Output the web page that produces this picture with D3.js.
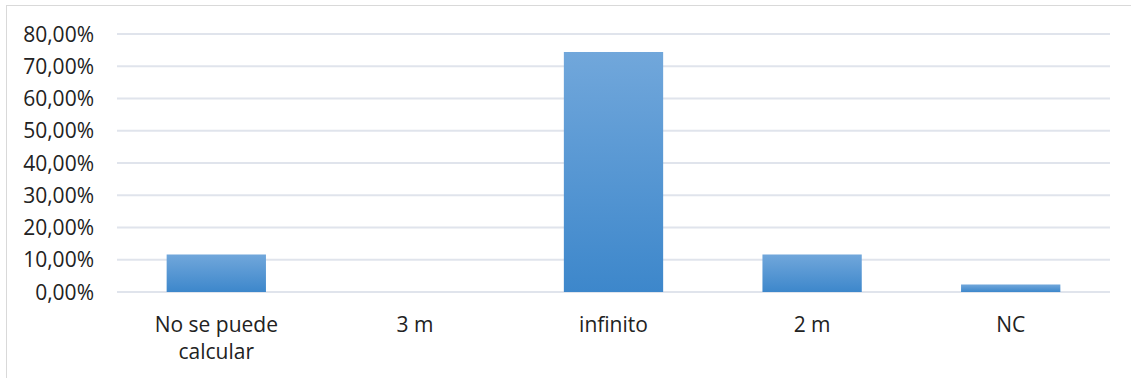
<!DOCTYPE html>
<html>
<head>
<meta charset="utf-8">
<script src="https://cdn.jsdelivr.net/npm/d3@7"></script>
<style>
  body { margin: 0; background: #fff; }
  text { font-family: "Open Sans", sans-serif; fill: #222; }
</style>
</head>
<body>
<div id="chart"></div>
<script>
var categories = ['No se puede calcular', '3 m', 'infinito', '2 m', 'NC'];
var values = [0.1163, 0, 0.7442, 0.1163, 0.0233];
var yTicks = [0, 0.1, 0.2, 0.3, 0.4, 0.5, 0.6, 0.7, 0.8];

var W = 1131, H = 378;
var margin = { top: 34, right: 21, bottom: 86, left: 117 };
var width = W - margin.left - margin.right;
var height = H - margin.top - margin.bottom;

var svg = d3.select('#chart').append('svg')
  .attr('width', W)
  .attr('height', H);

// bar gradient
var grad = svg.append('defs').append('linearGradient')
  .attr('id', 'barGrad')
  .attr('x1', 0).attr('y1', 0).attr('x2', 0).attr('y2', 1);
grad.append('stop').attr('offset', '0%').attr('stop-color', '#71a7db');
grad.append('stop').attr('offset', '100%').attr('stop-color', '#3d87cb');

// outer frame
svg.append('rect')
  .attr('x', 6.5).attr('y', 5.5)
  .attr('width', W + 10).attr('height', H + 10)
  .attr('fill', 'none')
  .attr('stroke', '#d9d9d9');

var g = svg.append('g')
  .attr('transform', 'translate(' + margin.left + ',' + margin.top + ')');

var x = d3.scaleBand()
  .domain(categories)
  .range([0, width])
  .paddingInner(0.5)
  .paddingOuter(0.25);

var y = d3.scaleLinear()
  .domain([0, 0.8])
  .range([height, 0]);

var fmt = function (d) { return (d * 100).toFixed(2).replace('.', ',') + '%'; };

// gridlines
g.selectAll('.grid')
  .data(yTicks)
  .enter()
  .append('line')
    .attr('class', 'grid')
    .attr('x1', 0)
    .attr('x2', width)
    .attr('y1', function (d) { return y(d); })
    .attr('y2', function (d) { return y(d); })
    .attr('stroke', '#e0e4ec')
    .attr('stroke-width', 2);

// y tick labels
g.selectAll('.ylab')
  .data(yTicks)
  .enter()
  .append('text')
    .attr('class', 'ylab')
    .attr('x', -23)
    .attr('y', function (d) { return y(d); })
    .attr('dy', '0.36em')
    .attr('text-anchor', 'end')
    .style('font-size', '21px')
    .text(fmt);

// bars
g.selectAll('.bar')
  .data(values)
  .enter()
  .append('rect')
    .attr('class', 'bar')
    .attr('x', function (d, i) { return x(categories[i]); })
    .attr('width', x.bandwidth())
    .attr('y', function (d) { return y(d); })
    .attr('height', function (d) { return y(0) - y(d); })
    .attr('fill', 'url(#barGrad)');

// x labels, wrapped in two lines where needed
var lines = { 'No se puede calcular': ['No se puede', 'calcular'] };
var xl = g.selectAll('.xlab')
  .data(categories)
  .enter()
  .append('text')
    .attr('class', 'xlab')
    .attr('text-anchor', 'middle')
    .attr('transform', function (d) {
      return 'translate(' + (x(d) + x.bandwidth() / 2) + ',' + (height + 40) + ')';
    })
    .style('font-size', '21px');

xl.each(function (d) {
  var parts = lines[d] || [d];
  d3.select(this).selectAll('tspan')
    .data(parts)
    .enter()
    .append('tspan')
      .attr('x', 0)
      .attr('dy', function (p, i) { return i === 0 ? 0 : 27; })
      .text(function (p) { return p; });
});
</script>
</body>
</html>
